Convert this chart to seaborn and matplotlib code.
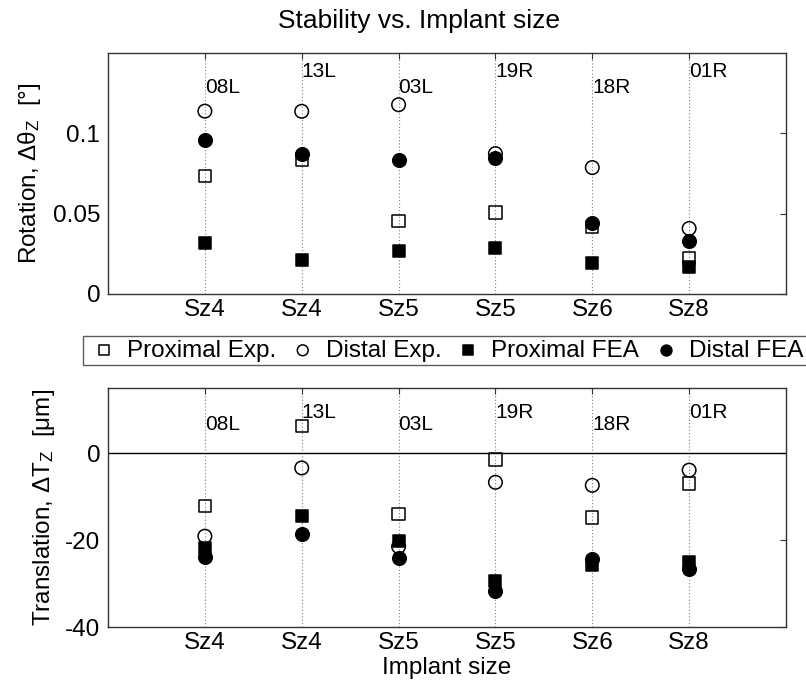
import matplotlib
matplotlib.use("Agg")
import matplotlib.pyplot as plt
import seaborn as sns
import numpy as np
import pandas as pd

# Specimens and their implant sizes (one column per specimen)
specimens = ["08L", "13L", "03L", "19R", "18R", "01R"]
sizes = ["Sz4", "Sz4", "Sz5", "Sz5", "Sz6", "Sz8"]

# Rotation, delta theta_z [deg]
rot_prox_exp = [0.0733, 0.0837, 0.0453, 0.0507, 0.0418, 0.0222]
rot_dist_exp = [0.1138, 0.1137, 0.1178, 0.0874, 0.0787, 0.0408]
rot_prox_fea = [0.0319, 0.0211, 0.0267, 0.0288, 0.0191, 0.0166]
rot_dist_fea = [0.0957, 0.0870, 0.0837, 0.0849, 0.0445, 0.0329]

# Translation, delta T_z [um]
tra_prox_exp = [-12.1, 6.2, -14.0, -1.5, -14.8, -7.0]
tra_dist_exp = [-19.1, -3.4, -21.5, -6.7, -7.4, -3.9]
tra_prox_fea = [-21.8, -14.4, -20.3, -29.4, -25.7, -25.0]
tra_dist_fea = [-24.0, -18.6, -24.1, -31.7, -24.4, -26.7]

series_names = ["Proximal Exp.", "Distal Exp.", "Proximal FEA", "Distal FEA"]

sns.set_theme(style="white")
plt.rcParams["font.family"] = ["Liberation Sans", "DejaVu Sans"]
plt.rcParams["mathtext.fontset"] = "custom"
plt.rcParams["mathtext.rm"] = "Liberation Sans"
plt.rcParams["mathtext.it"] = "Liberation Sans:italic"
plt.rcParams["mathtext.bf"] = "Liberation Sans:bold"
plt.rcParams["axes.unicode_minus"] = False
for key in ["text.color", "axes.labelcolor", "xtick.color", "ytick.color",
            "xtick.labelcolor", "ytick.labelcolor"]:
    plt.rcParams[key] = "black"

W, H = 806, 683
fig = plt.figure(figsize=(W / 100, H / 100), dpi=100)

ax1 = fig.add_axes([108 / W, 1 - 294 / H, 678 / W, 241 / H])
ax2 = fig.add_axes([108 / W, 1 - 627 / H, 678 / W, 239 / H])

pos = np.arange(1, len(specimens) + 1)

styles = [
    dict(marker="s", s=80, facecolor="none", edgecolor="black", linewidth=1.1),
    dict(marker="o", s=95, facecolor="none", edgecolor="black", linewidth=1.1),
    dict(marker="s", s=80, facecolor="black", edgecolor="black", linewidth=1.1),
    dict(marker="o", s=95, facecolor="black", edgecolor="black", linewidth=1.1),
]


def draw_panel(ax, values, ylim, yticks, yticklabels, ylabel, label_levels):
    for x in pos:
        ax.axvline(x, color="#7f7f7f", linestyle=(0, (1, 2)), linewidth=0.8, zorder=0)
    for name, vals, st in zip(series_names, values, styles):
        df = pd.DataFrame({"pos": pos, "val": vals})
        sns.scatterplot(data=df, x="pos", y="val", ax=ax, label=name,
                        legend=False, zorder=3, **st)
    for x, spec, lv in zip(pos, specimens, label_levels):
        ax.text(x, lv, spec, ha="left", va="baseline", fontsize=15, color="black")
    ax.set_xlim(0, 7)
    ax.set_ylim(*ylim)
    ax.set_xticks(pos)
    ax.set_xticklabels(sizes)
    ax.set_yticks(yticks)
    ax.set_yticklabels(yticklabels)
    ax.set_xlabel("")
    ax.set_ylabel(ylabel, fontsize=17.5, color="black")
    ax.tick_params(direction="in", top=True, right=True, length=4, width=0.8,
                   color="#333333", labelsize=17.5, labelcolor="black")
    ax.tick_params(axis="x", pad=3.5)
    ax.tick_params(axis="y", pad=5.5)
    for sp in ax.spines.values():
        sp.set_color("#333333")
        sp.set_linewidth(1.0)


draw_panel(ax1, [rot_prox_exp, rot_dist_exp, rot_prox_fea, rot_dist_fea],
           (0, 0.15), [0, 0.05, 0.1], ["0", "0.05", "0.1"],
           r"Rotation, $\mathrm{\Delta\theta_Z}$  [°]",
           [0.125, 0.135, 0.125, 0.135, 0.125, 0.135])
ax1.yaxis.set_label_coords(-0.096, 0.5)

draw_panel(ax2, [tra_prox_exp, tra_dist_exp, tra_prox_fea, tra_dist_fea],
           (-40, 15), [-40, -20, 0], ["-40", "-20", "0"],
           r"Translation, $\mathrm{\Delta T_Z}$  [μm]",
           [5.3, 8.1, 5.3, 8.1, 5.3, 8.1])
ax2.axhline(0, color="black", linewidth=1.0, zorder=1)
ax2.yaxis.set_label_coords(-0.075, 0.5)
ax2.set_xlabel("Implant size", fontsize=17.5, color="black")
ax2.xaxis.set_label_coords(0.5, -0.125)

fig.text(419 / W, 1 - 28 / H, "Stability vs. Implant size", ha="center",
         va="baseline", fontsize=19, color="black")

handles, labels = ax1.get_legend_handles_labels()
leg = fig.legend(handles, labels, loc="upper left",
                 bbox_to_anchor=(83 / W, 1 - 336 / H), ncol=4,
                 fontsize=17.5, frameon=True, fancybox=False, shadow=False,
                 borderaxespad=0, borderpad=0.15, handlelength=1.4,
                 handletextpad=0.25, columnspacing=0.4, markerscale=0.8,
                 labelcolor="black")
leg.get_frame().set_edgecolor("#333333")
leg.get_frame().set_linewidth(1.0)
leg.get_frame().set_facecolor("white")

fig.savefig("out.png", dpi=100)
